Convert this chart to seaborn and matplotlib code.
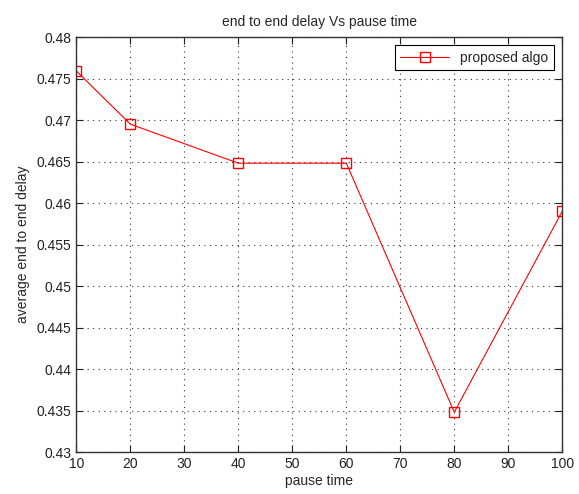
import numpy as np
import pandas as pd
import seaborn as sns
from matplotlib import pyplot as plt

# values
pause_time = [10, 20, 40, 60, 80, 100]
delay = [0.4759, 0.4695, 0.4648, 0.4648, 0.4348, 0.4590]
x_ticks = [10, 20, 30, 40, 50, 60, 70, 80, 90, 100]
y_ticks = [0.43, 0.435, 0.44, 0.445, 0.45, 0.455, 0.46, 0.465, 0.47, 0.475, 0.48]
series_name = 'proposed algo'

sns.set_style('ticks')
plt.rcParams['font.family'] = ['Liberation Sans', 'DejaVu Sans']
plt.rcParams['font.size'] = 10

df = pd.DataFrame({'pause time': pause_time, 'delay': delay, 'series': series_name})

fig = plt.figure(figsize=(5.79, 4.94), dpi=100)
ax = fig.add_axes([0.132, 0.085, 0.839, 0.840])

sns.lineplot(data=df, x='pause time', y='delay', hue='series', palette=['red'],
             marker='s', markersize=7, markerfacecolor='none', markeredgecolor='red',
             markeredgewidth=1.0, linewidth=0.8, ax=ax)

ax.set_xlim(10, 100)
ax.set_ylim(0.43, 0.48)
ax.set_xticks(x_ticks)
ax.set_yticks(y_ticks)
ax.set_xticklabels([str(t) for t in x_ticks])
ax.set_yticklabels(['{:g}'.format(t) for t in y_ticks])
ax.tick_params(direction='in', length=5, width=0.8, top=True, right=True,
               labelsize=10, colors='#222222')
ax.grid(True, linestyle=(0, (1, 4)), color='#333333', linewidth=0.8)
for s in ax.spines.values():
    s.set_linewidth(1.0)
    s.set_color('#333333')
    s.set_visible(True)

ax.set_title('end to end delay Vs pause time', fontsize=10, pad=8)
ax.set_xlabel('pause time', fontsize=10, labelpad=2)
ax.set_ylabel('average end to end delay', fontsize=10, labelpad=5)

leg = ax.legend(loc='upper right', fancybox=False, framealpha=1, edgecolor='black',
                fontsize=10, borderaxespad=0.6, handlelength=3.5)
leg.get_frame().set_linewidth(0.8)

fig.savefig('out.png', dpi=100)
